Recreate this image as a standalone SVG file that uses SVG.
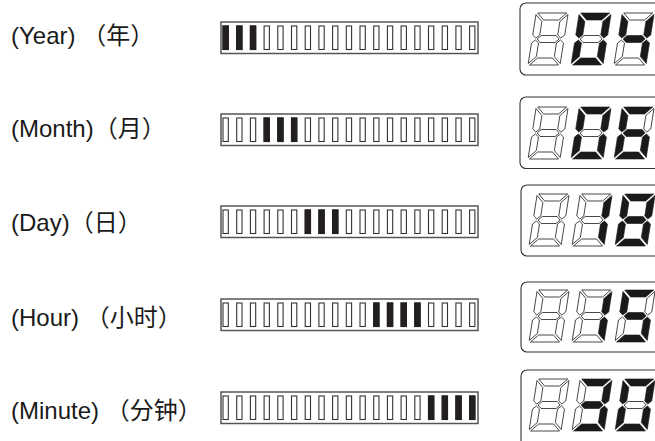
<svg xmlns="http://www.w3.org/2000/svg" xmlns:xlink="http://www.w3.org/1999/xlink" width="655" height="441" viewBox="0 0 655 441">
<style>
.lbl{font-family:"Liberation Sans","Noto Sans CJK SC",sans-serif;font-size:24px;fill:#1a1a1a}
.bar{fill:#fff;stroke:#555;stroke-width:1.5}
.c{fill:#fff;stroke:#333;stroke-width:1.1}
.cf{fill:#231f20;stroke:#231f20;stroke-width:1.1}
.disp{fill:#fff;stroke:#333;stroke-width:1.1}
.on{fill:#1a1a1a;stroke:#1a1a1a;stroke-width:0.6;stroke-linejoin:round}
.off{fill:#fff;stroke:#222;stroke-width:0.8;stroke-linejoin:round}
</style>
<defs>
<polygon id="sa" points="1.5,-52 30.5,-52 23.5,-45 8.5,-45"/>
<polygon id="sg" points="5,-26 8.5,-29.5 23.5,-29.5 27,-26 23.5,-22.5 8.5,-22.5"/>
<polygon id="sd" points="1.5,0 30.5,0 23.5,-7 8.5,-7"/>
<polygon id="sf" points="0,-50.5 7,-43.5 7,-30 3.5,-27 0,-30"/>
<polygon id="sb" points="32,-50.5 32,-30 28.5,-27 25,-30 25,-43.5"/>
<polygon id="se" points="0,-22 3.5,-25 7,-22 7,-8.5 0,-1.5"/>
<polygon id="sc" points="32,-22 32,-1.5 25,-8.5 25,-22 28.5,-25"/>
<g id="cells">
<rect class="c" x="223" y="4" width="5.3" height="23.5"/>
<rect class="c" x="236.7" y="4" width="5.3" height="23.5"/>
<rect class="c" x="250.4" y="4" width="5.3" height="23.5"/>
<rect class="c" x="264.1" y="4" width="5.3" height="23.5"/>
<rect class="c" x="277.8" y="4" width="5.3" height="23.5"/>
<rect class="c" x="291.5" y="4" width="5.3" height="23.5"/>
<rect class="c" x="305.2" y="4" width="5.3" height="23.5"/>
<rect class="c" x="318.9" y="4" width="5.3" height="23.5"/>
<rect class="c" x="332.6" y="4" width="5.3" height="23.5"/>
<rect class="c" x="346.3" y="4" width="5.3" height="23.5"/>
<rect class="c" x="360" y="4" width="5.3" height="23.5"/>
<rect class="c" x="373.7" y="4" width="5.3" height="23.5"/>
<rect class="c" x="387.4" y="4" width="5.3" height="23.5"/>
<rect class="c" x="401.1" y="4" width="5.3" height="23.5"/>
<rect class="c" x="414.8" y="4" width="5.3" height="23.5"/>
<rect class="c" x="428.5" y="4" width="5.3" height="23.5"/>
<rect class="c" x="442.2" y="4" width="5.3" height="23.5"/>
<rect class="c" x="455.9" y="4" width="5.3" height="23.5"/>
<rect class="c" x="469.6" y="4" width="5.3" height="23.5"/>
</g>
<g id="d8off">
<use href="#sa" class="off"/><use href="#sb" class="off"/><use href="#sc" class="off"/><use href="#sd" class="off"/><use href="#se" class="off"/><use href="#sf" class="off"/><use href="#sg" class="off"/>
</g>
<g id="d0">
<use href="#sa" class="on"/><use href="#sb" class="on"/><use href="#sc" class="on"/><use href="#sd" class="on"/><use href="#se" class="on"/><use href="#sf" class="on"/><use href="#sg" class="off"/>
</g>
<g id="d4">
<use href="#sa" class="off"/><use href="#sb" class="on"/><use href="#sc" class="on"/><use href="#sd" class="off"/><use href="#se" class="off"/><use href="#sf" class="on"/><use href="#sg" class="on"/>
</g>
<g id="d6">
<use href="#sa" class="on"/><use href="#sb" class="off"/><use href="#sc" class="on"/><use href="#sd" class="on"/><use href="#se" class="on"/><use href="#sf" class="on"/><use href="#sg" class="on"/>
</g>
<g id="d1">
<use href="#sa" class="off"/><use href="#sb" class="on"/><use href="#sc" class="on"/><use href="#sd" class="off"/><use href="#se" class="off"/><use href="#sf" class="off"/><use href="#sg" class="off"/>
</g>
<g id="d8">
<use href="#sa" class="on"/><use href="#sb" class="on"/><use href="#sc" class="on"/><use href="#sd" class="on"/><use href="#se" class="on"/><use href="#sf" class="on"/><use href="#sg" class="on"/>
</g>
<g id="d5">
<use href="#sa" class="on"/><use href="#sb" class="off"/><use href="#sc" class="on"/><use href="#sd" class="on"/><use href="#se" class="off"/><use href="#sf" class="on"/><use href="#sg" class="on"/>
</g>
<g id="d3">
<use href="#sa" class="on"/><use href="#sb" class="on"/><use href="#sc" class="on"/><use href="#sd" class="on"/><use href="#se" class="off"/><use href="#sf" class="off"/><use href="#sg" class="on"/>
</g>
</defs>
<rect width="655" height="441" fill="#fff"/>

<g id="row-year">
<text class="lbl" x="11" y="44">(Year) （年）</text>
<g id="bar-year" transform="translate(0,22)">
<rect class="bar" x="221" y="0" width="257" height="31.5"/>
<use href="#cells"/>
<rect class="cf" x="223" y="4" width="5.3" height="23.5"/>
<rect class="cf" x="236.7" y="4" width="5.3" height="23.5"/>
<rect class="cf" x="250.4" y="4" width="5.3" height="23.5"/>
</g>
<g id="disp-year">
<rect class="disp" x="520" y="3" width="150" height="72" rx="6"/>
<use href="#d8off" transform="translate(528,65) skewX(-9)"/>
<use href="#d0" transform="translate(571,65) skewX(-9)"/>
<use href="#d4" transform="translate(614,65) skewX(-9)"/>
</g>
</g>

<g id="row-month">
<text class="lbl" x="11" y="137">(Month)（月）</text>
<g id="bar-month" transform="translate(0,114)">
<rect class="bar" x="221" y="0" width="257" height="31.5"/>
<use href="#cells"/>
<rect class="cf" x="264.1" y="4" width="5.3" height="23.5"/>
<rect class="cf" x="277.8" y="4" width="5.3" height="23.5"/>
<rect class="cf" x="291.5" y="4" width="5.3" height="23.5"/>
</g>
<g id="disp-month">
<rect class="disp" x="520" y="97" width="150" height="71.5" rx="6"/>
<use href="#d8off" transform="translate(528,159) skewX(-9)"/>
<use href="#d0" transform="translate(571,159) skewX(-9)"/>
<use href="#d6" transform="translate(614,159) skewX(-9)"/>
</g>
</g>

<g id="row-day">
<text class="lbl" x="11" y="231">(Day)（日）</text>
<g id="bar-day" transform="translate(0,206)">
<rect class="bar" x="221" y="0" width="257" height="31.5"/>
<use href="#cells"/>
<rect class="cf" x="305.2" y="4" width="5.3" height="23.5"/>
<rect class="cf" x="318.9" y="4" width="5.3" height="23.5"/>
<rect class="cf" x="332.6" y="4" width="5.3" height="23.5"/>
</g>
<g id="disp-day">
<rect class="disp" x="521" y="185" width="150" height="71" rx="6"/>
<use href="#d8off" transform="translate(529,246) skewX(-9)"/>
<use href="#d1" transform="translate(572,246) skewX(-9)"/>
<use href="#d8" transform="translate(615,246) skewX(-9)"/>
</g>
</g>

<g id="row-hour">
<text class="lbl" x="11" y="326">(Hour) （小时）</text>
<g id="bar-hour" transform="translate(0,299)">
<rect class="bar" x="221" y="0" width="257" height="31.5"/>
<use href="#cells"/>
<rect class="cf" x="373.7" y="4" width="5.3" height="23.5"/>
<rect class="cf" x="387.4" y="4" width="5.3" height="23.5"/>
<rect class="cf" x="401.1" y="4" width="5.3" height="23.5"/>
<rect class="cf" x="414.8" y="4" width="5.3" height="23.5"/>
</g>
<g id="disp-hour">
<rect class="disp" x="521" y="282" width="150" height="70" rx="6"/>
<use href="#d8off" transform="translate(529,342) skewX(-9)"/>
<use href="#d1" transform="translate(572,342) skewX(-9)"/>
<use href="#d5" transform="translate(615,342) skewX(-9)"/>
</g>
</g>

<g id="row-minute">
<text class="lbl" x="11" y="419">(Minute) （分钟）</text>
<g id="bar-minute" transform="translate(0,392)">
<rect class="bar" x="221" y="0" width="257" height="31.5"/>
<use href="#cells"/>
<rect class="cf" x="428.5" y="4" width="5.3" height="23.5"/>
<rect class="cf" x="442.2" y="4" width="5.3" height="23.5"/>
<rect class="cf" x="455.9" y="4" width="5.3" height="23.5"/>
<rect class="cf" x="469.6" y="4" width="5.3" height="23.5"/>
</g>
<g id="disp-minute">
<rect class="disp" x="521" y="370" width="150" height="80" rx="6"/>
<use href="#d8off" transform="translate(529,431) skewX(-9)"/>
<use href="#d3" transform="translate(572,431) skewX(-9)"/>
<use href="#d0" transform="translate(615,431) skewX(-9)"/>
</g>
</g>
</svg>
